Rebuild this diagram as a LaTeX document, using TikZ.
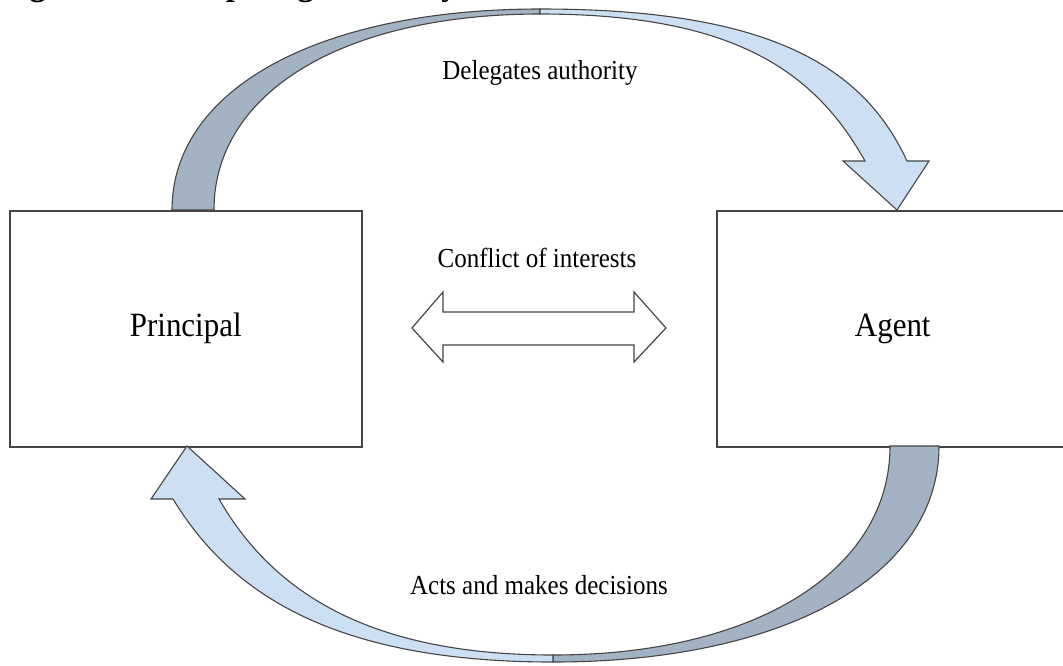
\documentclass[tikz,border=0pt]{standalone}
\usepackage{fontspec}
\setmainfont{Liberation Serif}
\newfontfamily\lblfont[FakeStretch=0.91]{Liberation Serif}
\definecolor{backblue}{HTML}{A3B3C4}
\definecolor{frontblue}{HTML}{CDE0F3}
\definecolor{edge}{HTML}{454545}
\begin{document}
\begin{tikzpicture}[x=1pt,y=-1pt,
  box/.style={draw=edge, line width=1.5pt, fill=white, minimum width=352pt,
    minimum height=236pt, anchor=north west, inner sep=0,
    font=\lblfont\fontsize{34}{38}\selectfont},
  band/.style={draw=edge, line width=1.1pt, line join=miter},
  darkband/.style={band, fill=backblue},
  lightband/.style={band, fill=frontblue},
  hollow/.style={draw=edge, line width=1.2pt, fill=white},
  lbl/.style={font=\lblfont\fontsize{27.5}{30}\selectfont, inner sep=0},
  ]
\useasboundingbox (0,0) rectangle (1063,665);
\clip (0,0) rectangle (1063,665);
\fill[white] (0,0) rectangle (1063,665);

% cut-off caption
\node[font=\bfseries\fontsize{33}{36}\selectfont, anchor=base west, inner sep=0]
  (title) at (0,-4.5) {Figure 1: Principal-agent theory};

% boxes
\node[box] (principal) at (9,210) {Principal};
\node[box] (agent) at (716,210) {Agent};

% top curved arrow: Principal -> Agent
\draw[darkband] (172,210) .. controls (172,89) and (319,9) .. (540,9)
  -- (540,14) .. controls (344,14) and (214,92) .. (214,210) -- cycle;
\draw[lightband] (540,9) .. controls (760,9) and (861,61) .. (907,161)
  -- (929,161) -- (897,210) -- (843,161) -- (865,161)
  .. controls (815,72) and (735,14) .. (540,14) -- cycle;

% bottom curved arrow: Agent -> Principal
\draw[darkband] (939,446) .. controls (939,576) and (785,662) .. (553,662)
  -- (553,655) .. controls (755,655) and (890,571) .. (890,446) -- cycle;
\draw[lightband] (553,662) .. controls (333,662) and (230,593) .. (173,499)
  -- (151,499) -- (187,446) -- (245,499) -- (219,499)
  .. controls (268,584) and (358,655) .. (553,655) -- cycle;

% double arrow
\draw[hollow] (412,328) -- (443,292) -- (443,312) -- (634,312) -- (634,292) -- (666,328)
  -- (634,362) -- (634,345) -- (443,345) -- (443,362) -- cycle;

% labels
\node[lbl] (deleg) at (540,73) {Delegates authority};
\node[lbl] (conf) at (537,258) {Conflict of interests};
\node[lbl] (acts) at (539,585) {Acts and makes decisions};
\end{tikzpicture}
\end{document}
